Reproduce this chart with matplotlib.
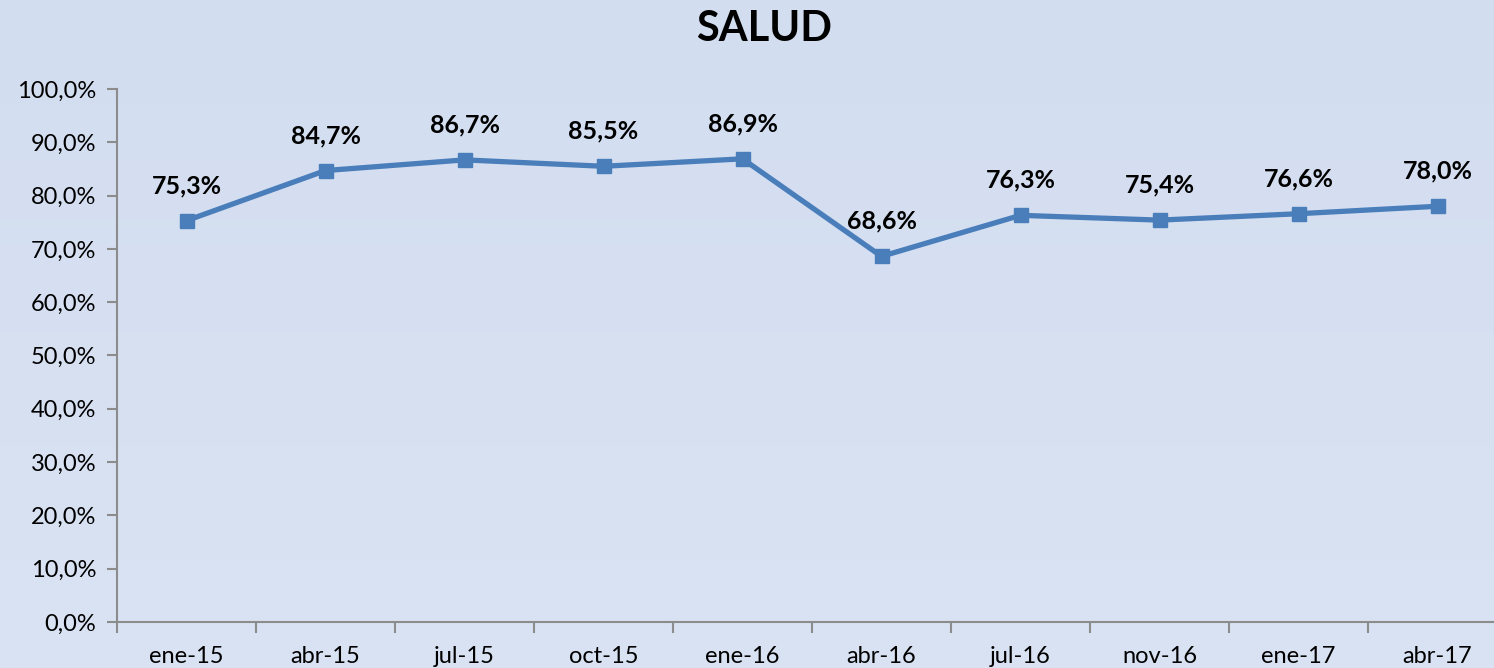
import matplotlib
matplotlib.use('Agg')
import matplotlib.pyplot as plt
import numpy as np
from matplotlib.ticker import FuncFormatter, FixedLocator

plt.rcParams['font.family'] = ['Lato', 'DejaVu Sans']

categories = ['ene-15', 'abr-15', 'jul-15', 'oct-15', 'ene-16',
              'abr-16', 'jul-16', 'nov-16', 'ene-17', 'abr-17']
values = [75.3, 84.7, 86.7, 85.5, 86.9, 68.6, 76.3, 75.4, 76.6, 78.0]
labels = ['75,3%', '84,7%', '86,7%', '85,5%', '86,9%',
          '68,6%', '76,3%', '75,4%', '76,6%', '78,0%']

fig = plt.figure(figsize=(14.94, 6.68), dpi=100)

# soft blue gradient background
bg = fig.add_axes([0, 0, 1, 1], zorder=-10)
grad = np.linspace(0, 1, 256).reshape(-1, 1)
top_col = np.array([0.824, 0.867, 0.941])
bot_col = np.array([0.855, 0.890, 0.953])
img = top_col + (bot_col - top_col) * grad[:, :, None]
bg.imshow(img, aspect='auto', extent=[0, 1, 0, 1])
bg.axis('off')

ax = fig.add_axes([117 / 1494, 1 - 622 / 668, 1390 / 1494, (622 - 89) / 668])
ax.patch.set_alpha(0)

x = np.arange(len(categories))
ax.plot(x, values, color='#4A7EBB', linewidth=3.8, marker='s',
        markersize=10, markerfacecolor='#4A7EBB', markeredgecolor='#4A7EBB')

for xi, v, lab in zip(x, values, labels):
    ax.annotate(lab, (xi, v), xytext=(0, 17), textcoords='offset points',
                ha='center', va='bottom', fontsize=18, fontweight='bold')

ax.set_xlim(-0.5, len(categories) - 0.5)
ax.set_ylim(0, 100)
ax.set_yticks(np.arange(0, 101, 10))
ax.yaxis.set_major_formatter(FuncFormatter(lambda v, p: f'{v:.1f}%'.replace('.', ',')))
ax.set_xticks(x)
ax.set_xticklabels(categories)
ax.xaxis.set_minor_locator(FixedLocator(np.arange(-0.5, len(categories), 1)))

for s in ['top', 'right']:
    ax.spines[s].set_visible(False)
for s in ['left', 'bottom']:
    ax.spines[s].set_color('#8C8C8C')
    ax.spines[s].set_linewidth(1.5)

ax.tick_params(axis='y', which='major', length=7, width=1.5, color='#8C8C8C',
               labelsize=17, pad=8)
ax.tick_params(axis='x', which='major', length=0, labelsize=17, pad=17)
ax.tick_params(axis='x', which='minor', length=8, width=1.5, color='#8C8C8C')

fig.text(764 / 1494, 1 - 29 / 668, 'SALUD', ha='center', va='center',
         fontsize=30, fontweight='bold')

fig.savefig('out.png', dpi=100)
